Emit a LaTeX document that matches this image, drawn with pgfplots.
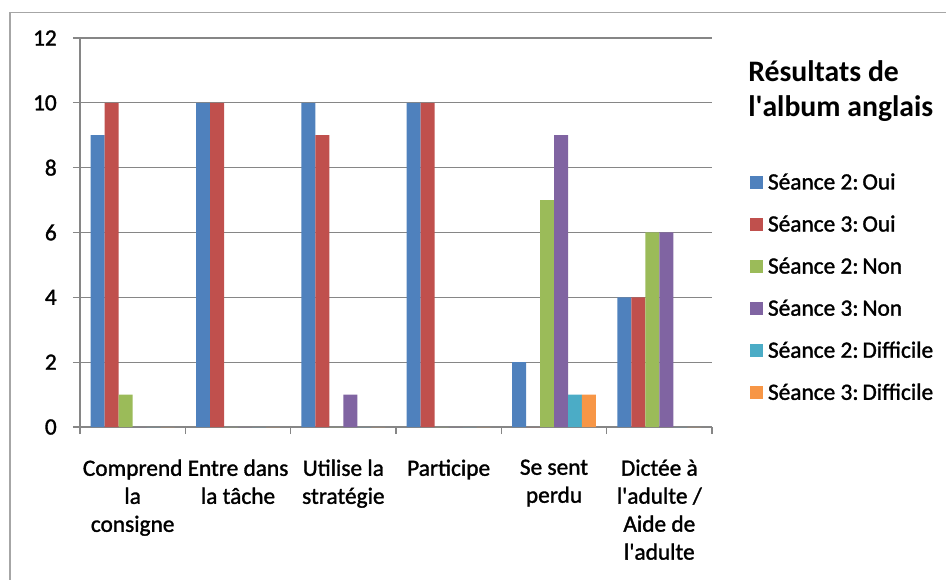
\documentclass[border=0pt]{standalone}
\usepackage{fontspec}
\setmainfont{Carlito}
\newfontfamily\lblfam{Carlito}[FakeBold=1.4]
\usepackage{pgfplots}
\pgfplotsset{compat=1.18}
\definecolor{cA}{HTML}{4F81BD}
\definecolor{cB}{HTML}{C0504D}
\definecolor{cC}{HTML}{9BBB59}
\definecolor{cD}{HTML}{8064A2}
\definecolor{cE}{HTML}{4BACC6}
\definecolor{cF}{HTML}{F79646}
\definecolor{gridgray}{HTML}{868686}
\definecolor{bordergray}{HTML}{A6A6A6}
\newcommand{\lblfont}{\lblfam\fontsize{17.5pt}{21pt}\selectfont}
\begin{document}
\begin{tikzpicture}
\useasboundingbox (0,0) rectangle (709.5pt,434.25pt);
\draw[color=bordergray, line width=1.2pt] (7.5pt,-5pt) -- (7.5pt,424.75pt) -- (715pt,424.75pt);
\begin{axis}[
  at={(60pt,114pt)}, anchor=south west,
  scale only axis, width=474pt, height=291.75pt,
  xmin=-0.5, xmax=5.5, ymin=0, ymax=12,
  ytick={0,2,...,12},
  xtick={0,...,5},
  xticklabels={{Comprend\\la\\consigne},{Entre dans\\la tâche},{Utilise la\\stratégie},{Participe},{Se sent\\perdu},{Dictée à\\l\textquotesingle adulte /\\Aide de\\l\textquotesingle adulte}},
  minor xtick={-0.5,0.5,...,5.5},
  axis x line*=bottom, axis y line*=left,
  axis line style={draw=gridgray, line width=0.8pt},
  ymajorgrids, major grid style={draw=gridgray, line width=0.8pt},
  tick align=outside, major tick length=5.25pt, minor tick length=5.25pt,
  every tick/.style={draw=gridgray, line width=0.8pt},
  every major x tick/.append style={draw=none},
  /pgf/number format/assume math mode=true,
  yticklabel style={font=\lblfont, anchor=east, inner sep=0pt, xshift=-12pt},
  xticklabel style={font=\lblfont, align=center, anchor=north, inner sep=0pt, yshift=-19pt},
  legend style={at={(1.0601,0.6586)}, anchor=north west, draw=none, fill=none,
    inner sep=0pt, outer sep=0pt, row sep=14.55pt,
    nodes={inner sep=0pt, text height=14pt, text depth=3pt},
    font=\lblfont},
  legend cell align=left,
  legend image code/.code={\fill[#1] (0pt,-4.875pt) rectangle (9.75pt,4.875pt); \path (13.5pt,0pt);},
  bar width=0.1329,
  clip=false,
]
\addplot[ybar, fill=cA, draw=none, bar shift=-0.33225] coordinates {(0,9) (1,10) (2,10) (3,10) (4,2) (5,4)};
\addplot[ybar, fill=cB, draw=none, bar shift=-0.19935] coordinates {(0,10) (1,10) (2,9) (3,10) (4,0) (5,4)};
\addplot[ybar, fill=cC, draw=none, bar shift=-0.06645] coordinates {(0,1) (1,0) (2,0) (3,0) (4,7) (5,6)};
\addplot[ybar, fill=cD, draw=none, bar shift=0.06645] coordinates {(0,0) (1,0) (2,1) (3,0) (4,9) (5,6)};
\addplot[ybar, fill=cE, draw=none, bar shift=0.19935] coordinates {(0,0) (1,0) (2,0) (3,0) (4,1) (5,0)};
\addplot[ybar, fill=cF, draw=none, bar shift=0.33225] coordinates {(0,0) (1,0) (2,0) (3,0) (4,1) (5,0)};
\legend{Séance 2:\,Oui, Séance 3:\,Oui, Séance 2:\,Non, Séance 3:\,Non, Séance 2:\,Difficile, Séance 3:\,Difficile}
\end{axis}
\node[anchor=base west, inner sep=0pt, font=\fontsize{22.3pt}{24pt}\selectfont\bfseries] at (561pt,373pt) {Résultats de};
\node[anchor=base west, inner sep=0pt, font=\fontsize{22.3pt}{24pt}\selectfont\bfseries] at (561pt,347pt) {l\textquotesingle album anglais};
\end{tikzpicture}
\end{document}
